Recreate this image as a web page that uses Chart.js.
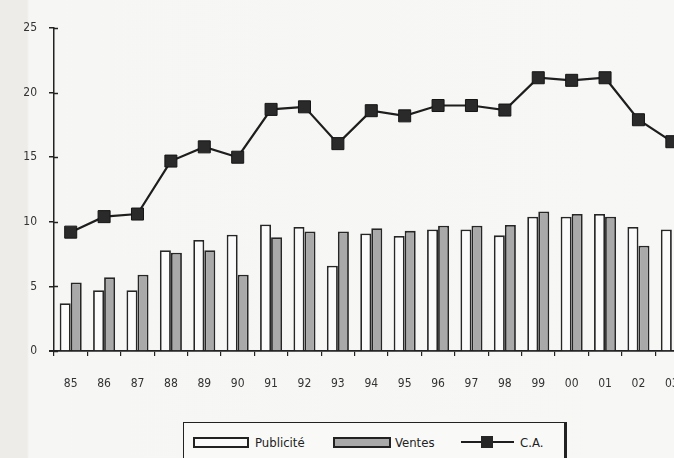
<!DOCTYPE html>
<html>
<head>
<meta charset="utf-8">
<script src="https://cdn.jsdelivr.net/npm/chart.js@4/dist/chart.umd.min.js"></script>
<style>
  html, body { margin: 0; padding: 0; }
  body {
    width: 674px; height: 458px; overflow: hidden; position: relative;
    background: linear-gradient(to right, #eeece8 0px, #eeece8 27px, #f6f6f5 29px, #f7f7f6 100%);
    font-family: "Liberation Sans Narrow", "DejaVu Sans Condensed", "Liberation Sans", sans-serif;
  }
  #wrap { position: absolute; left: 0; top: 0; width: 700px; height: 458px; }
  #legend {
    position: absolute; left: 183px; top: 422px; width: 384px; height: 44px;
    border: 1.5px solid #222; border-right: 3.5px solid #222; background: #f9f9f8;
    box-sizing: border-box;
  }
  .sw { position: absolute; box-sizing: border-box; border: 2px solid #222; }
  .lt { position: absolute; font-size: 13px; color: #222; line-height: 13px; }
</style>
</head>
<body>
<div id="wrap"><canvas id="c" width="700" height="458"></canvas></div>
<div id="legend">
  <div class="sw" style="left:9px; top:14px; width:56px; height:11px; background:#fbfbfb;"></div>
  <div class="lt" id="l1" style="left:71px; top:13px;"></div>
  <div class="sw" style="left:149px; top:14px; width:58px; height:11px; background:#a9a9a9;"></div>
  <div class="lt" id="l2" style="left:211px; top:13px;"></div>
  <div style="position:absolute; left:277px; top:18px; width:53px; height:2px; background:#1e1e1e;"></div>
  <div style="position:absolute; left:297px; top:13px; width:12px; height:12px; background:#262626;"></div>
  <div class="lt" id="l3" style="left:336px; top:13px;"></div>
</div>
<script>
const categories = ["85","86","87","88","89","90","91","92","93","94","95","96","97","98","99","00","01","02","03"];
const publicite = [3.7, 4.7, 4.7, 7.8, 8.6, 9.0, 9.8, 9.6, 6.6, 9.1, 8.9, 9.4, 9.4, 8.95, 10.4, 10.4, 10.6, 9.6, 9.4];
const ventes    = [5.3, 5.7, 5.9, 7.6, 7.8, 5.9, 8.8, 9.25, 9.25, 9.5, 9.3, 9.7, 9.7, 9.75, 10.8, 10.6, 10.4, 8.15, null];
const ca        = [9.2, 10.4, 10.6, 14.7, 15.8, 15.0, 18.7, 18.9, 16.05, 18.6, 18.2, 19.0, 19.0, 18.65, 21.15, 20.95, 21.15, 17.9, 16.2];
const yTicks = [0, 5, 10, 15, 20, 25];
const seriesNames = ["Publicité", "Ventes", "C.A."];

document.getElementById('l1').textContent = seriesNames[0];
document.getElementById('l2').textContent = seriesNames[1];
document.getElementById('l3').textContent = seriesNames[2];

const FONT = "'Liberation Sans Narrow', 'DejaVu Sans Condensed', 'Liberation Sans', sans-serif";
const DARK = '#222';

const innerTicks = {
  id: 'innerTicks',
  afterDraw(chart) {
    const ctx = chart.ctx;
    const y = chart.scales.y;
    const left = chart.chartArea.left;
    const bottom = chart.chartArea.bottom;
    ctx.save();
    ctx.strokeStyle = DARK;
    ctx.lineWidth = 1.5;
    yTicks.forEach(v => {
      const py = Math.round(y.getPixelForValue(v)) + 0.5;
      ctx.beginPath();
      ctx.moveTo(left, py);
      ctx.lineTo(left + 4, py);
      ctx.stroke();
    });
    ctx.lineWidth = 1.8;
    ctx.beginPath();
    ctx.moveTo(left - 5, bottom);
    ctx.lineTo(left, bottom);
    ctx.stroke();
    ctx.restore();
  }
};

new Chart(document.getElementById('c'), {
  data: {
    labels: categories,
    datasets: [
      {
        type: 'line', label: seriesNames[2], data: ca, order: 0,
        borderColor: '#1e1e1e', borderWidth: 2.2, backgroundColor: '#2a2a2a',
        pointStyle: 'rect', pointRadius: 8.5, pointHoverRadius: 8.5,
        pointBackgroundColor: '#2a2a2a', pointBorderColor: '#151515', pointBorderWidth: 1,
        tension: 0, fill: false
      },
      {
        type: 'bar', label: seriesNames[0], data: publicite, order: 1,
        backgroundColor: '#fbfbfb', borderColor: '#262626', borderWidth: 1.8,
        barPercentage: 1.0, categoryPercentage: 0.66
      },
      {
        type: 'bar', label: seriesNames[1], data: ventes, order: 2,
        backgroundColor: '#a9a9a9', borderColor: '#262626', borderWidth: 1.8,
        barPercentage: 1.0, categoryPercentage: 0.66
      }
    ]
  },
  options: {
    responsive: false,
    animation: false,
    devicePixelRatio: 1,
    layout: { padding: { top: 28, right: 11, bottom: 67, left: 0 } },
    plugins: { legend: { display: false }, tooltip: { enabled: false } },
    scales: {
      x: {
        offset: true,
        afterFit(s) { s.height = 40; },
        grid: { display: true, drawOnChartArea: false, offset: true, tickLength: 5, color: DARK, lineWidth: 1.2 },
        border: { display: true, color: DARK, width: 1.8 },
        ticks: { color: '#333', font: { family: FONT, size: 12 }, padding: 21, maxRotation: 0, autoSkip: false }
      },
      y: {
        min: 0, max: 25,
        afterFit(s) { s.width = 54; },
        afterBuildTicks(s) { s.ticks = yTicks.map(v => ({ value: v })); },
        grid: { display: true, drawOnChartArea: false, tickLength: 5, color: DARK, lineWidth: 1.5 },
        border: { display: true, color: DARK, width: 1.5 },
        ticks: { color: '#333', font: { family: FONT, size: 12 }, padding: 12 }
      }
    }
  },
  plugins: [innerTicks]
});
</script>
</body>
</html>
